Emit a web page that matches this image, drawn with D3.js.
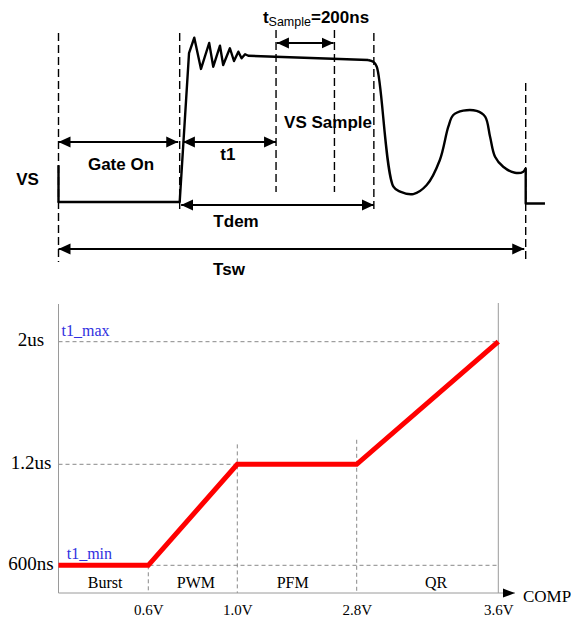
<!DOCTYPE html>
<html>
<head>
<meta charset="utf-8">
<script src="https://cdn.jsdelivr.net/npm/d3@7"></script>
<style>
  html, body { margin: 0; padding: 0; background: #fff; }
  svg { display: block; }
</style>
</head>
<body>
<div id="chart"></div>
<script>
// ===========================
// VS waveform timing + t1 vs COMP
// ===========================

// ---- top: VS waveform, [time ns, level V] ----
const vsRinging = [
  [0, 2.45], [0, 0], [415, 0], [447, 9.93], [465, 10.95], [488, 8.87],
  [516, 10.6], [530, 9.02], [553, 10.42], [564, 9.13], [587, 10.25],
  [601, 9.4], [616, 10.02], [627, 9.58], [639, 9.85], [650, 9.75], [1060, 9.47]
];
const vsRelease = [
  [1060, 9.47], [1078, 9.35], [1090, 9.02], [1147, 1.02], [1170, 0.69],
  [1215, 0.53], [1261, 1.13], [1306, 2.8], [1335, 5.02], [1352, 5.8],
  [1386, 6.09], [1432, 6.07], [1461, 5.69], [1478, 4.35], [1495, 3.02],
  [1523, 2.35], [1563, 1.95], [1592, 2.02], [1600, 2.25]
];
const vsTail = [[1600, 2.25], [1600, -0.1], [1666, -0.1]];

// dashed time markers
const markerTimes = [0, 415, 745, 945, 1080, 1600];
const markerTop = [11.27, 11.27, 11.47, 11.47, 11.27, 7.93];
const markerBottom = [-4, -0.73, 0.67, 0.67, -0.73, -4];

// dimension arrows
const spanFrom = [0, 426, 748, 420, 0];
const spanTo = [410, 745, 942, 1080, 1595];
const spanLevel = [4, 4, 10.6, -0.2, -3.13];

// waveform labels
const topLabels = ['VS', 'Gate On', 't1', 'VS Sample', 'Tdem', 'Tsw'];
const topLabelTime = [-106, 214, 580, 923, 608, 584];
const topLabelLevel = [1.13, 2.13, 2.8, 4.93, -1.65, -4.87];
const sampleLabelAt = [700, 11.93];

// ---- bottom: t1 (us) vs COMP (V) ----
const compV = [0, 0.6, 1.0, 2.8, 3.6];
const t1us = [0.6, 0.6, 1.2, 1.2, 2.0];
const compTicks = [0.6, 1.0, 2.8, 3.6];
const compTickLabels = ['0.6V', '1.0V', '2.8V', '3.6V'];
const t1Ticks = [0.6, 1.2, 2.0];
const t1TickLabels = ['600ns', '1.2us', '2us'];
const gridEnds = [3.6, 2.8, 3.6];
const modeNames = ['Burst', 'PWM', 'PFM', 'QR'];
const modeCenters = [0.311, 0.814, 1.835, 3.248];
const modeBounds = [0.6, 1.0, 2.8];
const modeBoundTop = [0.6, 1.33, 1.36];
const limitLabels = ['t1_max', 't1_min'];
const limitAt = [[0.02, 2.0], [0.055, 0.6]];

const W = 571, H = 617;
const svg = d3.select('#chart').append('svg')
  .attr('width', W)
  .attr('height', H);

const defs = svg.append('defs');
defs.append('marker')
  .attr('id', 'arrow')
  .attr('markerUnits', 'userSpaceOnUse')
  .attr('viewBox', '0 0 12 12')
  .attr('markerWidth', 12)
  .attr('markerHeight', 12)
  .attr('refX', 12)
  .attr('refY', 6)
  .attr('orient', 'auto-start-reverse')
  .append('path')
  .attr('d', 'M0,0.5L12,6L0,11.5Z')
  .attr('fill', '#000');
defs.append('marker')
  .attr('id', 'axisArrow')
  .attr('markerUnits', 'userSpaceOnUse')
  .attr('viewBox', '0 0 12 10')
  .attr('markerWidth', 12)
  .attr('markerHeight', 10)
  .attr('refX', 12)
  .attr('refY', 5)
  .attr('orient', 'auto')
  .append('path')
  .attr('d', 'M0,0.5L12,5L0,9.5Z')
  .attr('fill', '#000');

// ---------------------------
// Top: waveform
// ---------------------------
const xT = d3.scaleLinear().domain([0, 1600]).range([58.5, 525.7]);
const yV = d3.scaleLinear().domain([0, 10]).range([202, 52]);
const wave = svg.append('g');

wave.selectAll('.marker')
  .data(markerTimes)
  .join('line')
  .attr('class', 'marker')
  .attr('x1', d => xT(d))
  .attr('x2', d => xT(d))
  .attr('y1', (d, i) => yV(markerTop[i]))
  .attr('y2', (d, i) => yV(markerBottom[i]))
  .attr('stroke', '#000')
  .attr('stroke-width', 1.4)
  .attr('stroke-dasharray', '8,4');

const waveLine = d3.line().x(d => xT(d[0])).y(d => yV(d[1]));
const waveSmooth = d3.line().x(d => xT(d[0])).y(d => yV(d[1])).curve(d3.curveCatmullRom.alpha(0.5));

[[vsRinging, waveLine], [vsRelease, waveSmooth], [vsTail, waveLine]].forEach(([pts, gen]) => {
  wave.append('path')
    .attr('d', gen(pts))
    .attr('fill', 'none')
    .attr('stroke', '#000')
    .attr('stroke-width', 2.4)
    .attr('stroke-linejoin', 'round');
});

wave.selectAll('.span')
  .data(spanFrom)
  .join('line')
  .attr('class', 'span')
  .attr('x1', d => xT(d))
  .attr('x2', (d, i) => xT(spanTo[i]))
  .attr('y1', (d, i) => yV(spanLevel[i]))
  .attr('y2', (d, i) => yV(spanLevel[i]))
  .attr('stroke', '#000')
  .attr('stroke-width', 2)
  .attr('marker-start', 'url(#arrow)')
  .attr('marker-end', 'url(#arrow)');

wave.selectAll('.tlabel')
  .data(topLabels)
  .join('text')
  .attr('class', 'tlabel')
  .attr('x', (d, i) => xT(topLabelTime[i]))
  .attr('y', (d, i) => yV(topLabelLevel[i]))
  .attr('text-anchor', 'middle')
  .style('font-family', '"Liberation Sans", Arial, sans-serif')
  .style('font-weight', 'bold')
  .style('font-size', '17px')
  .text(d => d);

const sample = wave.append('text')
  .attr('x', xT(sampleLabelAt[0]))
  .attr('y', yV(sampleLabelAt[1]))
  .style('font-family', '"Liberation Sans", Arial, sans-serif')
  .style('font-weight', 'bold')
  .style('font-size', '17px');
sample.append('tspan').text('t');
sample.append('tspan')
  .attr('dy', 3)
  .style('font-size', '12.5px')
  .style('font-weight', 'normal')
  .text('Sample');
sample.append('tspan').attr('dy', -3).text('=200ns');

// ---------------------------
// Bottom: t1 vs COMP
// ---------------------------
const axisY = 593, axisTop = 304, arrowTip = 515;
const x = d3.scaleLinear().domain(compV).range([58.5, 148.3, 237.3, 356.7, 498.3]);
const y = d3.scaleLinear().domain(t1Ticks).range([565.3, 464.3, 341.7]);
const bot = svg.append('g');
const serif = '"Liberation Serif", "Times New Roman", serif';

// grid lines
bot.selectAll('.hgrid')
  .data(t1Ticks)
  .join('line')
  .attr('class', 'hgrid')
  .attr('x1', x(0))
  .attr('x2', (d, i) => x(gridEnds[i]))
  .attr('y1', d => y(d))
  .attr('y2', d => y(d))
  .attr('stroke', '#7a7a7a')
  .attr('stroke-width', 0.9)
  .attr('stroke-dasharray', '4,3');

bot.selectAll('.vgrid')
  .data(modeBounds)
  .join('line')
  .attr('class', 'vgrid')
  .attr('x1', d => x(d))
  .attr('x2', d => x(d))
  .attr('y1', (d, i) => y(modeBoundTop[i]))
  .attr('y2', axisY)
  .attr('stroke', '#7a7a7a')
  .attr('stroke-width', 0.9)
  .attr('stroke-dasharray', '4,3');

// frame lines
bot.append('line')
  .attr('x1', x(0)).attr('x2', x(0))
  .attr('y1', axisTop).attr('y2', axisY)
  .attr('stroke', '#9a9a9a').attr('stroke-width', 1);
bot.append('line')
  .attr('x1', x(3.6)).attr('x2', x(3.6))
  .attr('y1', axisTop - 1).attr('y2', axisY)
  .attr('stroke', '#9a9a9a').attr('stroke-width', 1);
bot.append('line')
  .attr('x1', x(0)).attr('x2', arrowTip)
  .attr('y1', axisY).attr('y2', axisY)
  .attr('stroke', '#9a9a9a').attr('stroke-width', 1)
  .attr('marker-end', 'url(#axisArrow)');

// axes (labels only)
const xAxis = bot.append('g')
  .attr('transform', `translate(0,${axisY})`)
  .call(d3.axisBottom(x).tickValues(compTicks)
    .tickFormat((d, i) => compTickLabels[i]).tickSize(0).tickPadding(11));
xAxis.select('.domain').remove();
xAxis.selectAll('text')
  .attr('fill', '#000')
  .style('font-family', serif)
  .style('font-size', '15px');

const yAxis = bot.append('g')
  .attr('transform', `translate(${x(0)},0)`)
  .call(d3.axisLeft(y).tickValues(t1Ticks)
    .tickFormat((d, i) => t1TickLabels[i]).tickSize(0));
yAxis.select('.domain').remove();
yAxis.selectAll('text')
  .attr('x', -27.5)
  .attr('dy', '0.22em')
  .attr('text-anchor', 'middle')
  .attr('fill', '#000')
  .style('font-family', serif)
  .style('font-size', '19px');

bot.append('text')
  .attr('x', arrowTip + 8)
  .attr('y', axisY + 9)
  .style('font-family', serif)
  .style('font-size', '17px')
  .text('COMP');

// mode labels
bot.selectAll('.mode')
  .data(modeNames)
  .join('text')
  .attr('class', 'mode')
  .attr('x', (d, i) => x(modeCenters[i]))
  .attr('y', axisY - 5)
  .attr('text-anchor', 'middle')
  .style('font-family', serif)
  .style('font-size', '16px')
  .text(d => d);

// limit labels
bot.selectAll('.limit')
  .data(limitLabels)
  .join('text')
  .attr('class', 'limit')
  .attr('x', (d, i) => x(limitAt[i][0]))
  .attr('y', (d, i) => y(limitAt[i][1]) - 6)
  .attr('fill', '#3030e0')
  .style('font-family', serif)
  .style('font-size', '16px')
  .text(d => d);

// t1 curve
const t1Line = d3.line()
  .x((d, i) => x(compV[i]))
  .y(d => y(d));
bot.append('path')
  .attr('d', t1Line(t1us))
  .attr('fill', 'none')
  .attr('stroke', '#ff0000')
  .attr('stroke-width', 5)
  .attr('stroke-linejoin', 'miter');
</script>
</body>
</html>
